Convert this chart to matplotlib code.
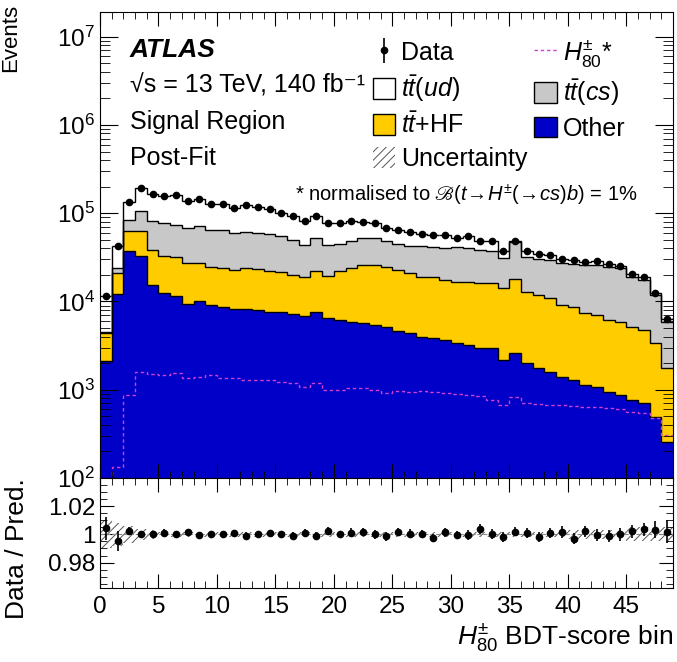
import numpy as np
import matplotlib
from matplotlib import pyplot as plt
from matplotlib.lines import Line2D
from matplotlib.patches import Patch
from matplotlib.ticker import MultipleLocator, LogLocator, NullFormatter, FixedLocator, FixedFormatter

matplotlib.use('Agg')

plt.rcParams['font.family'] = ['Liberation Sans', 'DejaVu Sans']
plt.rcParams['mathtext.fontset'] = 'custom'
plt.rcParams['mathtext.rm'] = 'Liberation Sans'
plt.rcParams['mathtext.it'] = 'Liberation Sans:italic'
plt.rcParams['mathtext.bf'] = 'Liberation Sans:bold'
plt.rcParams['mathtext.fallback'] = 'stix'
plt.rcParams['hatch.linewidth'] = 0.7

# events per BDT-score bin (49 bins)
data = np.array([11500, 42000, 135000, 193000, 165000, 155000, 162000, 136000, 144000, 128000,
                 128000, 114000, 125000, 119000, 111000, 100000, 92000, 81000, 94000, 77000,
                 77000, 82000, 80500, 77000, 67500, 65000, 62000, 58400, 57000, 56000,
                 52000, 54500, 49000, 48000, 37500, 49000, 37000, 34700, 33700, 30400,
                 29600, 28300, 29100, 26500, 25300, 20600, 18900, 12400, 6400])
other = np.array([2100, 12300, 37000, 33000, 15500, 12400, 11400, 9300, 10000, 9100,
                  8700, 8300, 8300, 8000, 7700, 7700, 7200, 6800, 7700, 6450,
                  6200, 5900, 5670, 5400, 5200, 4600, 4370, 3980, 3840, 3670,
                  3370, 3220, 2950, 2950, 2180, 2600, 2000, 1750, 1600, 1410,
                  1290, 1130, 1080, 950, 870, 765, 703, 495, 258])
tt_hf = np.array([2300, 8700, 26000, 30000, 23000, 20600, 20600, 17700, 17000, 15400,
                  15300, 14700, 15700, 15500, 14700, 13700, 12800, 12300, 14500, 13050,
                  16000, 18000, 20100, 20600, 19700, 18200, 16600, 15100, 15000, 13900,
                  13400, 13600, 13150, 13450, 11900, 15300, 10900, 10150, 9300, 7700,
                  7400, 6270, 5920, 5250, 5030, 4430, 4070, 2865, 1490])
tt_cs = np.array([100, 3000, 21000, 44000, 42500, 44000, 42000, 41000, 45000, 40500,
                  41000, 36000, 38000, 36500, 35600, 33600, 30000, 24900, 29800, 24500,
                  22800, 25100, 26200, 26000, 23100, 22200, 21700, 22900, 22200, 22400,
                  24200, 23200, 22400, 21400, 16900, 29100, 18600, 18100, 18700, 18400,
                  17800, 18600, 19000, 18300, 18000, 13800, 12800, 8540, 4150])
tt_ud = np.array([6950, 18200, 50700, 86000, 84000, 77800, 88000, 67800, 72100, 63000,
                  63000, 54900, 63100, 59000, 52900, 45000, 42100, 36900, 42100, 32800,
                  32000, 32900, 28400, 25000, 19600, 19900, 19300, 16400, 16100, 15950,
                  11050, 14500, 10300, 10200, 6580, 1900, 5470, 4770, 4070, 2840,
                  3200, 2240, 3110, 2030, 1400, 1560, 1260, 460, 490])
h80 = np.array([40, 134, 880, 1600, 1520, 1470, 1550, 1350, 1400, 1470,
                1350, 1350, 1290, 1290, 1290, 1240, 1180, 1080, 1180, 995,
                995, 1040, 1040, 995, 912, 960, 950, 960, 940, 930,
                900, 880, 860, 766, 673, 836, 703, 690, 680, 673,
                660, 643, 630, 616, 600, 560, 540, 475, 307])
# relative data stat. error and relative total uncertainty
data_err = np.array([0.008, 0.007, 0.003, 0.0022, 0.0022, 0.0022, 0.0022, 0.0022, 0.0022, 0.0022,
                     0.0022, 0.0025, 0.0025, 0.0025, 0.0025, 0.0025, 0.0025, 0.0025, 0.0025, 0.0025,
                     0.0025, 0.003, 0.003, 0.003, 0.003, 0.003, 0.003, 0.003, 0.003, 0.003,
                     0.003, 0.0035, 0.0035, 0.0035, 0.0035, 0.0035, 0.0035, 0.0035, 0.0035, 0.004,
                     0.004, 0.004, 0.004, 0.0045, 0.0045, 0.0045, 0.0045, 0.006, 0.008])
unc = np.array([0.010, 0.008, 0.006, 0.004, 0.003, 0.0015, 0.0015, 0.0015, 0.0015, 0.0015,
                0.0015, 0.0015, 0.0015, 0.0015, 0.0015, 0.0015, 0.0015, 0.0015, 0.0015, 0.0015,
                0.0015, 0.0015, 0.0015, 0.0015, 0.0015, 0.0015, 0.0015, 0.0015, 0.0015, 0.0015,
                0.002, 0.002, 0.002, 0.002, 0.002, 0.002, 0.002, 0.002, 0.002, 0.002,
                0.003, 0.003, 0.003, 0.003, 0.003, 0.005, 0.005, 0.005, 0.005])

edges = np.arange(len(data) + 1)
centers = edges[:-1] + 0.5
c_other = other
c_hf = c_other + tt_hf
c_cs = c_hf + tt_cs
total = c_cs + tt_ud

col_other = '#0000c8'
col_hf = '#ffcc00'
col_cs = '#c8c8c8'
col_sig = '#d040d0'

fig = plt.figure(figsize=(6.77, 6.62), dpi=100)
ax = fig.add_axes([0.1477, 0.2779, 0.8464, 0.7039])
ax_r = fig.add_axes([0.1477, 0.1118, 0.8464, 0.1662], sharex=ax)

# stacked histogram
for top, col in [(total, 'white'), (c_cs, col_cs), (c_hf, col_hf), (c_other, col_other)]:
    ax.stairs(top, edges, baseline=1, fill=True, facecolor=col, edgecolor='none')
for top in [total, c_cs, c_hf, c_other]:
    ax.stairs(top, edges, baseline=None, color='black', lw=1)
ax.stairs(total * (1 + unc), edges, baseline=total * (1 - unc), fill=True,
          facecolor='none', edgecolor='#555555', hatch='////', lw=0)
ax.stairs(h80, edges, baseline=None, color=col_sig, ls=(0, (2.5, 2)), lw=1)
eb = ax.errorbar(centers, data, yerr=data * data_err, fmt='o', color='black',
                 ms=4.5, elinewidth=1.2, capsize=0)

ax.set_yscale('log')
ax.set_ylim(100, 1.9e7)
ax.set_xlim(0, 49)
ax.yaxis.set_minor_locator(LogLocator(subs=np.arange(2, 10)))
ax.yaxis.set_minor_formatter(NullFormatter())
ax.set_ylabel('Events', fontsize=16)
ax.yaxis.set_label_coords(-0.137, 0.945)

# ratio panel
ax_r.stairs(1 + unc, edges, baseline=1 - unc, fill=True,
            facecolor='none', edgecolor='#555555', hatch='////', lw=0)
ax_r.axhline(1, color='#888888', ls='--', lw=0.8)
ax_r.errorbar(centers, data / total, yerr=data_err, fmt='o', color='black',
              ms=4.5, elinewidth=1.2, capsize=0)
ax_r.set_ylim(0.962, 1.04)
ax_r.yaxis.set_major_locator(FixedLocator([0.98, 1.0, 1.02]))
ax_r.yaxis.set_major_formatter(FixedFormatter(['0.98', '1', '1.02']))
ax_r.yaxis.set_minor_locator(MultipleLocator(0.005))
ax_r.set_ylabel('Data / Pred.', fontsize=19)
ax_r.yaxis.set_label_coords(-0.124, 0.36)
ax_r.set_xlabel(r'$H^{\pm}_{80}$ BDT-score bin', fontsize=19, loc='right', labelpad=2)

for a in (ax, ax_r):
    a.tick_params(which='both', direction='in', top=True, right=True, labelsize=17.5)
    a.tick_params(which='major', length=10)
    a.tick_params(which='minor', length=5)
    a.xaxis.set_major_locator(MultipleLocator(5))
    a.xaxis.set_minor_locator(MultipleLocator(1))
ax.tick_params(labelbottom=False)
ax.tick_params(axis='y', which='major', length=13)
ax.tick_params(axis='y', which='minor', length=7)
ax_r.tick_params(axis='x', pad=6)

# labels
ax.text(0.052, 0.918, 'ATLAS', transform=ax.transAxes, fontsize=19,
        fontweight='bold', fontstyle='italic', va='center')
ax.text(0.052, 0.843, '√s = 13 TeV, 140 fb⁻¹', transform=ax.transAxes,
        fontsize=18, va='center')
ax.text(0.052, 0.764, 'Signal Region', transform=ax.transAxes, fontsize=18, va='center')
ax.text(0.052, 0.687, 'Post-Fit', transform=ax.transAxes, fontsize=18, va='center')
ax.text(0.939, 0.607, r'* normalised to $ℬ(t\!\rightarrow\! H^{\pm}(\!\rightarrow\! cs)b)$ = 1%',
        transform=ax.transAxes, fontsize=14.5, va='center', ha='right')

handles = [
    eb,
    Patch(facecolor='white', edgecolor='black', lw=1),
    Patch(facecolor=col_hf, edgecolor='black', lw=1),
    Patch(facecolor='none', edgecolor='#555555', hatch='////', lw=0),
    Line2D([], [], color=col_sig, ls=(0, (2.5, 2)), lw=1),
    Patch(facecolor=col_cs, edgecolor='black', lw=1),
    Patch(facecolor=col_other, edgecolor='black', lw=1),
]
labels = ['Data', r'$t\bar{t}(ud)$', r'$t\bar{t}$+HF', 'Uncertainty',
          r'$H^{\pm}_{80}$*', r'$t\bar{t}(cs)$', 'Other']
ax.legend(handles, labels, ncol=2, loc='upper left', bbox_to_anchor=(0.476, 0.947),
          frameon=False, fontsize=18, handlelength=0.9, handleheight=0.9,
          handletextpad=0.25, columnspacing=0.25, labelspacing=0.34, borderpad=0,
          borderaxespad=0)

fig.savefig('out.png', dpi=100)
